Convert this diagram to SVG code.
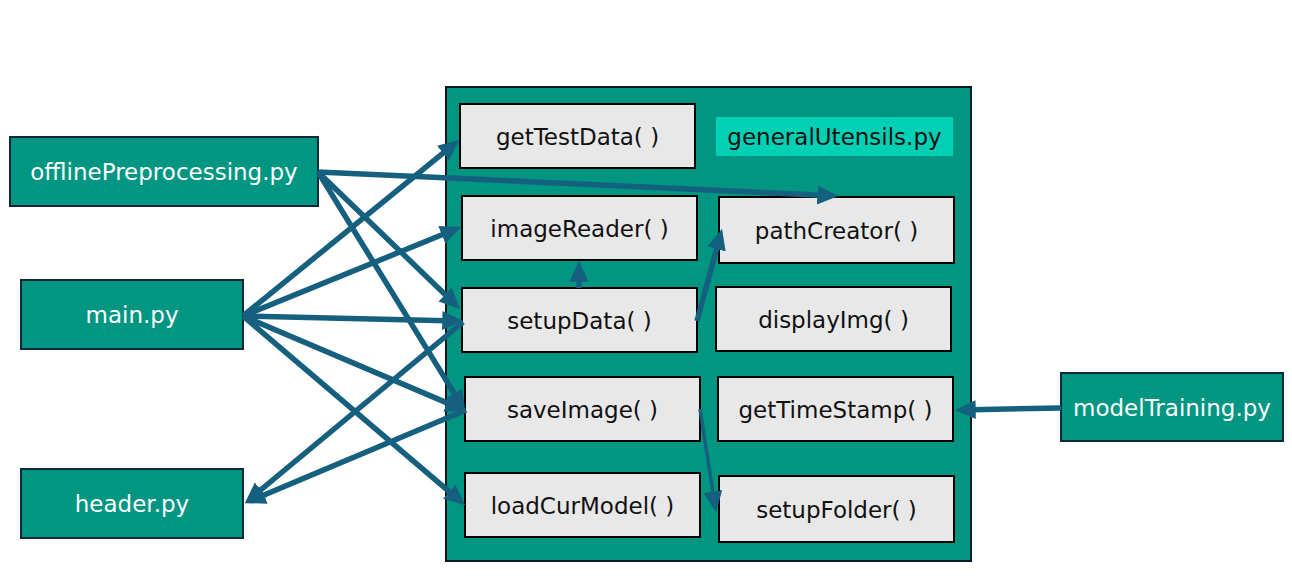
<svg xmlns="http://www.w3.org/2000/svg" width="1292" height="582" viewBox="0 0 1292 582">
<style>
.file{fill:#009682;stroke:#10283a;stroke-width:2}
.fn{fill:#e8e8e8;stroke:#000;stroke-width:2}
.wt{font-family:"DejaVu Sans",sans-serif;font-size:23px;fill:#fff;text-anchor:middle}
.bt{font-family:"DejaVu Sans",sans-serif;font-size:23px;fill:#111;text-anchor:middle}
.c line{stroke:#16607f;stroke-width:5.5;fill:none;marker-end:url(#ah)}
</style>
<defs>
<marker id="ah" markerUnits="userSpaceOnUse" viewBox="0 0 20 20" markerWidth="21" markerHeight="21" refX="14" refY="10" orient="auto">
<path d="M0,1 L20,10 L0,19 Z" fill="#16607f"/>
</marker>
</defs>
<rect width="1292" height="582" fill="#fff"/>
<g id="generalUtensils">
<rect x="446" y="87" width="525" height="474" fill="#009682" stroke="#0b1a22" stroke-width="2"/>
<rect x="716" y="117" width="237" height="39" fill="#00d0b4"/>
<text class="bt" x="834.5" y="145">generalUtensils.py</text>
</g>
<g id="getTestData"><rect class="fn" x="460" y="104" width="235" height="64"/><text class="bt" x="577.5" y="144.5">getTestData( )</text></g>
<g id="imageReader"><rect class="fn" x="462" y="196" width="235" height="64"/><text class="bt" x="579.5" y="236.5">imageReader( )</text></g>
<g id="pathCreator"><rect class="fn" x="719" y="197" width="235" height="66"/><text class="bt" x="836.5" y="238.5">pathCreator( )</text></g>
<g id="setupData"><rect class="fn" x="462" y="288" width="235" height="64"/><text class="bt" x="579.5" y="328.5">setupData( )</text></g>
<g id="displayImg"><rect class="fn" x="716" y="287" width="235" height="64"/><text class="bt" x="833.5" y="327.5">displayImg( )</text></g>
<g id="saveImage"><rect class="fn" x="465" y="377" width="235" height="64"/><text class="bt" x="582.5" y="417.5">saveImage( )</text></g>
<g id="getTimeStamp"><rect class="fn" x="718" y="377" width="235" height="64"/><text class="bt" x="835.5" y="417.5">getTimeStamp( )</text></g>
<g id="loadCurModel"><rect class="fn" x="465" y="473" width="235" height="64"/><text class="bt" x="582.5" y="513.5">loadCurModel( )</text></g>
<g id="setupFolder"><rect class="fn" x="719" y="476" width="235" height="66"/><text class="bt" x="836.5" y="517.5">setupFolder( )</text></g>
<g id="offlinePreprocessing"><rect class="file" x="10" y="137" width="308" height="69"/><text class="wt" x="164" y="180">offlinePreprocessing.py</text></g>
<g id="main"><rect class="file" x="21" y="280" width="222" height="69"/><text class="wt" x="132" y="323">main.py</text></g>
<g id="header"><rect class="file" x="21" y="469" width="222" height="69"/><text class="wt" x="132" y="512">header.py</text></g>
<g id="modelTraining"><rect class="file" x="1061" y="373" width="222" height="68"/><text class="wt" x="1172" y="415.5">modelTraining.py</text></g>
<g id="connectors" class="c">
<line x1="318" y1="172" x2="832" y2="195.7"/>
<line x1="318" y1="172" x2="455.7" y2="304.8"/>
<line x1="318" y1="172" x2="461.9" y2="405.9"/>
<line x1="243" y1="316" x2="454.4" y2="143.8"/>
<line x1="243" y1="316" x2="455.4" y2="229.3"/>
<line x1="243" y1="316" x2="457" y2="320.9"/>
<line x1="243" y1="316" x2="460.5" y2="408.6"/>
<line x1="243" y1="316" x2="460.4" y2="501.1"/>
<line x1="463" y1="322" x2="249.6" y2="499.2"/>
<line x1="466" y1="410" x2="250.5" y2="500.7"/>
<line x1="579" y1="288" x2="579" y2="267"/>
<line x1="697" y1="321" x2="720.4" y2="234.8"/>
<line x1="700" y1="409" x2="715.1" y2="506.1" style="stroke-width:3.5"/>
<line x1="1061" y1="408" x2="961" y2="409.9"/>
</g>
</svg>
